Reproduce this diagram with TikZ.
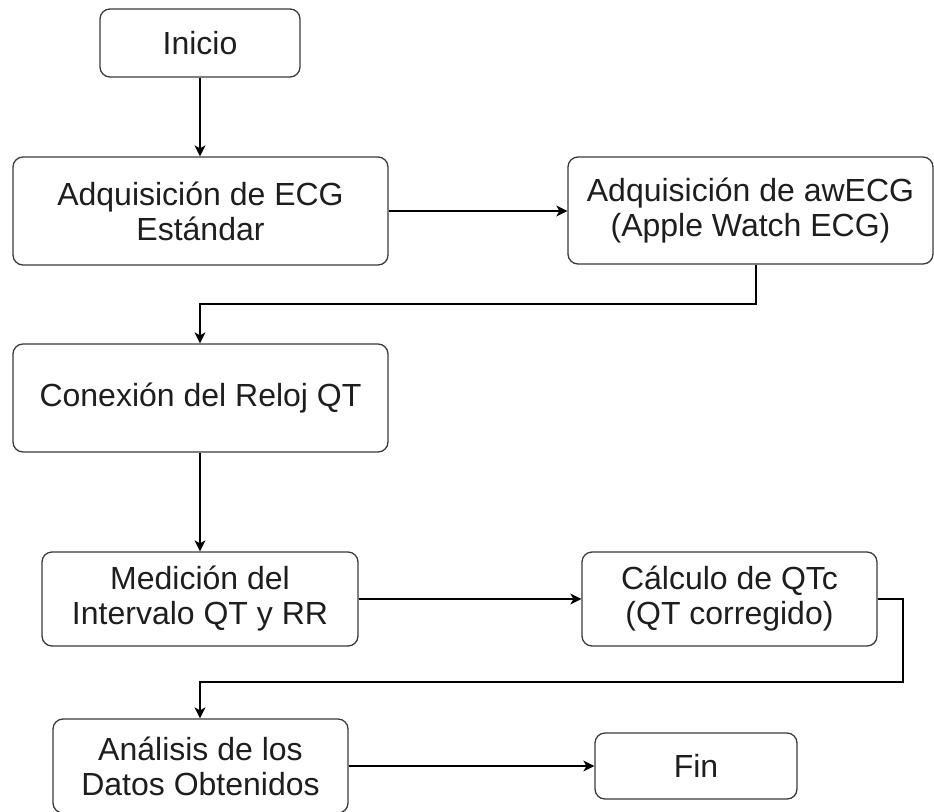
\documentclass[tikz,border=0pt]{standalone}
\usepackage{fontspec}
\setmainfont{Liberation Sans}
\usetikzlibrary{arrows.meta}
\definecolor{boxline}{HTML}{3A3A3A}
\definecolor{txt}{HTML}{1E1E1E}
\tikzset{
  stepbox/.style={draw=boxline, line width=1.3pt, rounded corners=10pt,
    rectangle, align=center, text=txt, inner sep=0pt,
    font=\fontsize{32}{35}\selectfont},
  arr/.style={draw=black, line width=1.3pt,
    -{Stealth[length=11pt, width=11pt, inset=3pt]}},
}
\begin{document}
\begin{tikzpicture}[x=1pt, y=-1pt]
  \useasboundingbox (0,0) rectangle (934,811);
  \begin{scope}
  \clip (0,0) rectangle (934,811);
  % process steps
  \node[stepbox, minimum width=200pt, minimum height=68pt]  (inicio) at (200,43)    {Inicio};
  \node[stepbox, minimum width=375pt, minimum height=108pt] (ecg)    at (200.5,211) {Adquisición de ECG\\Estándar};
  \node[stepbox, minimum width=365pt, minimum height=107pt] (aw)     at (750.5,210.5) {Adquisición de awECG\\(Apple Watch ECG)};
  \node[stepbox, minimum width=375pt, minimum height=108pt] (conex)  at (200.5,398) {Conexión del Reloj QT};
  \node[stepbox, minimum width=316pt, minimum height=94pt]  (med)    at (200,599)   {Medición del\\Intervalo QT y RR};
  \node[stepbox, minimum width=295pt, minimum height=94pt]  (calc)   at (729.5,599) {Cálculo de QTc\\(QT corregido)};
  \node[stepbox, minimum width=295pt, minimum height=94pt]  (anal)   at (200.5,766) {Análisis de los\\Datos Obtenidos};
  \node[stepbox, minimum width=202pt, minimum height=66pt]  (fin)    at (696,766)   {Fin};
  % bends of the elbow connectors
  \coordinate (b1) at (756,304);
  \coordinate (b2) at (200,304);
  \coordinate (b3) at (903,599);
  \coordinate (b4) at (903,682);
  \coordinate (b5) at (200,682);
  % connectors
  \draw[arr] (inicio.south) -- (ecg.north -| inicio.south);
  \draw[arr] (ecg.east) -- (aw.west |- ecg.east);
  \draw[arr] (b1 |- aw.south) -- (b1) -- (b2) -- (b2 |- conex.north);
  \draw[arr] (conex.south -| b2) -- (med.north -| b2);
  \draw[arr] (med.east) -- (calc.west);
  \draw[arr] (calc.east) -- (b3) -- (b4) -- (b5) -- (b5 |- anal.north);
  \draw[arr] (anal.east) -- (fin.west);
  \end{scope}
\end{tikzpicture}
\end{document}
